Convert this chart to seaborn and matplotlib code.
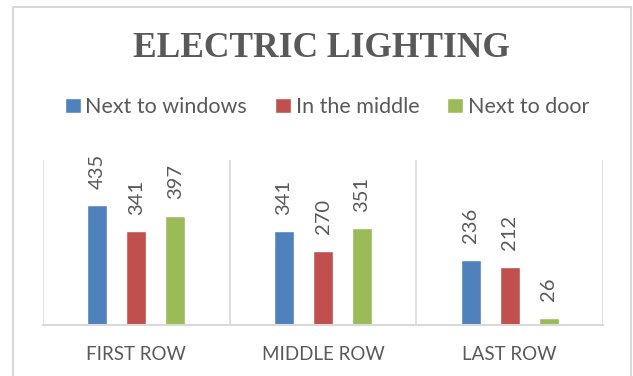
import matplotlib
matplotlib.use("Agg")
import matplotlib.pyplot as plt
import seaborn as sns
import pandas as pd
from matplotlib.patches import Rectangle

# ---- data ----
rows = ["FIRST ROW", "MIDDLE ROW", "LAST ROW"]
positions = ["Next to windows", "In the middle", "Next to door"]
next_to_windows = [435, 341, 236]
in_the_middle = [341, 270, 212]
next_to_door = [397, 351, 26]
title = "ELECTRIC LIGHTING"

colors = ["#4F81BD", "#C0504D", "#9BBB59"]
text_gray = "#595959"
line_gray = "#D9D9D9"

records = []
for series_name, vals in zip(positions, [next_to_windows, in_the_middle, next_to_door]):
    for r, v in zip(rows, vals):
        records.append({"row": r, "position": series_name, "value": v})
df = pd.DataFrame(records)

sns.set_style("white")
plt.rcParams["font.family"] = ["Lato", "DejaVu Sans"]

W, H = 633, 376
fig = plt.figure(figsize=(W / 100, H / 100), dpi=100)
ax = fig.add_axes([43 / W, 1 - 325 / H, 560 / W, 165 / H])

sns.barplot(data=df, x="row", y="value", hue="position", order=rows,
            hue_order=positions, palette=colors, width=0.627, gap=0.49,
            saturation=1, ax=ax, legend=True)

ax.set_ylim(0, 600)
ax.set_xlim(-0.5, 2.5)
ax.set_xlabel("")
ax.set_ylabel("")
ax.set_yticks([])
ax.tick_params(axis="x", length=0, pad=15, labelsize=13.5, colors=text_gray)

for sp in ["top", "left", "right"]:
    ax.spines[sp].set_visible(False)
ax.spines["bottom"].set_color(line_gray)
ax.spines["bottom"].set_linewidth(1.5)
for xv in [-0.5, 0.5, 1.5, 2.5]:
    ax.axvline(xv, color=line_gray, lw=1.2, zorder=0)

for cont in ax.containers:
    ax.bar_label(cont, rotation=90, padding=12, color=text_gray, fontsize=14.5)

handles, labels = ax.get_legend_handles_labels()
ax.legend(handles, labels, loc="center", bbox_to_anchor=(327 / W, 1 - 107 / H),
          bbox_transform=fig.transFigure, ncol=3, frameon=False, fontsize=15.5,
          handlelength=0.75, handleheight=0.75, handletextpad=0.2,
          columnspacing=1.3, labelcolor=text_gray)

fig.text(321.5 / W, 1 - 48.5 / H, title, ha="center", va="center",
         fontsize=25.5, fontweight="bold", color=text_gray,
         family=["Liberation Serif", "DejaVu Serif"])

fig.patches.append(Rectangle((12.5 / W, -0.05), (631 - 12.5) / W, 1.05 - 7.5 / H,
                             transform=fig.transFigure, fill=False,
                             edgecolor=line_gray, lw=1.5))

fig.savefig("out.png", dpi=100)
